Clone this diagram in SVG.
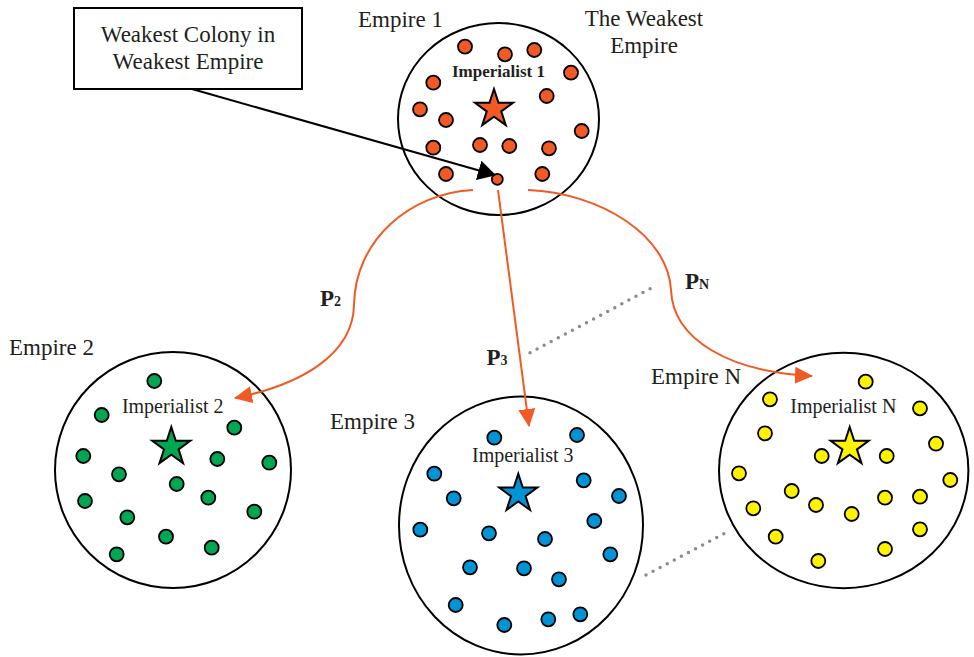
<svg xmlns="http://www.w3.org/2000/svg" width="974" height="657" viewBox="0 0 974 657">
<style>
  .lbl { font-family: "Liberation Serif", "Times New Roman", serif; font-size: 23px; fill: #231f20; }
  .imp { font-family: "Liberation Serif", "Times New Roman", serif; font-size: 20px; fill: #231f20; text-anchor: middle; }
  .impb { font-family: "Liberation Serif", "Times New Roman", serif; font-size: 17px; font-weight: bold; fill: #231f20; text-anchor: middle; }
  .pl { font-family: "Liberation Serif", "Times New Roman", serif; font-size: 23px; font-weight: bold; fill: #231f20; }
  .sub { font-size: 14px; }
  .emp { fill: #ffffff; stroke: #000000; stroke-width: 2; }
  .dot { stroke: #000000; stroke-width: 1.8; }
  .r { fill: #f15a24; }
  .g { fill: #00a651; }
  .b { fill: #0093d5; }
  .y { fill: #fff200; }
  .star { stroke: #000000; stroke-width: 2; stroke-linejoin: miter; }
  .oarrow { fill: none; stroke: #f15a24; stroke-width: 2; }
  .dotted { fill: none; stroke: #8c8c8c; stroke-width: 3.5; stroke-linecap: round; stroke-dasharray: 0 8; }
</style>
<defs>
  <polygon id="star" points="0,-20 4.49,-6.18 19.02,-6.18 7.27,2.36 11.76,16.18 0,7.64 -11.76,16.18 -7.27,2.36 -19.02,-6.18 -4.49,-6.18"/>
  <marker id="ah-o" markerUnits="userSpaceOnUse" markerWidth="18" markerHeight="18" viewBox="0 0 18 18" refX="17" refY="9" orient="auto">
    <path d="M0,0.5 L18,9 L0,17.5 Z" fill="#f15a24"/>
  </marker>
  <marker id="ah-k" markerUnits="userSpaceOnUse" markerWidth="18" markerHeight="20" viewBox="0 0 18 20" refX="17" refY="10" orient="auto">
    <path d="M0,0 L18,10 L0,20 Z" fill="#000000"/>
  </marker>
</defs>

<g id="note">
  <rect x="74" y="8" width="228" height="81" fill="#ffffff" stroke="#000000" stroke-width="2"/>
  <text class="lbl" x="188" y="42" text-anchor="middle">Weakest Colony in</text>
  <text class="lbl" x="188" y="69" text-anchor="middle">Weakest Empire</text>
</g>

<g id="empire1">
  <ellipse class="emp" cx="498.5" cy="119" rx="100.5" ry="96"/>
  <text class="lbl" x="358" y="27">Empire 1</text>
  <text class="lbl" x="644" y="26" text-anchor="middle">The Weakest</text>
  <text class="lbl" x="644" y="53" text-anchor="middle">Empire</text>
  <text class="impb" x="498.5" y="77">Imperialist 1</text>
  <use href="#star" class="star r" x="494" y="109"/>
  <g class="dot r">
    <circle cx="465" cy="46.7" r="7"/>
    <circle cx="505" cy="54.3" r="7"/>
    <circle cx="534.3" cy="50" r="7"/>
    <circle cx="571" cy="72.7" r="7"/>
    <circle cx="433.3" cy="82.7" r="7"/>
    <circle cx="546.7" cy="96" r="7"/>
    <circle cx="420" cy="109.3" r="7"/>
    <circle cx="446" cy="120" r="7"/>
    <circle cx="581.7" cy="131" r="7"/>
    <circle cx="433.3" cy="147.7" r="7"/>
    <circle cx="480" cy="145" r="7"/>
    <circle cx="509.3" cy="146" r="7"/>
    <circle cx="549" cy="148.3" r="7"/>
    <circle cx="446" cy="174" r="7"/>
    <circle cx="542.3" cy="174" r="7"/>
    <circle cx="497.3" cy="179.3" r="5.5"/>
  </g>
</g>

<g id="empire2">
  <circle class="emp" cx="173" cy="470" r="118"/>
  <text class="lbl" x="9" y="355">Empire 2</text>
  <text class="imp" x="172.7" y="413">Imperialist 2</text>
  <use href="#star" class="star g" x="171.3" y="447"/>
  <g class="dot g">
    <circle cx="154.3" cy="381" r="7"/>
    <circle cx="101.7" cy="415" r="7"/>
    <circle cx="234.3" cy="427.7" r="7"/>
    <circle cx="83.3" cy="456" r="7"/>
    <circle cx="217.3" cy="459" r="7"/>
    <circle cx="269.3" cy="462.7" r="7"/>
    <circle cx="119" cy="474.3" r="7"/>
    <circle cx="176.7" cy="484" r="7"/>
    <circle cx="85" cy="501" r="7"/>
    <circle cx="208.3" cy="497.7" r="7"/>
    <circle cx="254.3" cy="511.7" r="7"/>
    <circle cx="127.3" cy="517.3" r="7"/>
    <circle cx="166" cy="536.7" r="7"/>
    <circle cx="211.7" cy="547.7" r="7"/>
    <circle cx="116.7" cy="554.3" r="7"/>
  </g>
</g>

<g id="empire3">
  <ellipse class="emp" cx="521" cy="525.5" rx="122" ry="129"/>
  <text class="lbl" x="330" y="429">Empire 3</text>
  <text class="imp" x="522.8" y="461.7">Imperialist 3</text>
  <use href="#star" class="star b" x="518.3" y="493.8"/>
  <g class="dot b">
    <circle cx="494.3" cy="437.7" r="7"/>
    <circle cx="577" cy="435" r="7"/>
    <circle cx="434.3" cy="473.7" r="7"/>
    <circle cx="583.7" cy="480.3" r="7"/>
    <circle cx="453.7" cy="498.3" r="7"/>
    <circle cx="619" cy="496" r="7"/>
    <circle cx="594.3" cy="521" r="7"/>
    <circle cx="420.3" cy="529.7" r="7"/>
    <circle cx="489" cy="533.3" r="7"/>
    <circle cx="545" cy="539" r="7"/>
    <circle cx="610.3" cy="554.3" r="7"/>
    <circle cx="470" cy="567.3" r="7"/>
    <circle cx="524" cy="568.3" r="7"/>
    <circle cx="559" cy="579.3" r="7"/>
    <circle cx="455.7" cy="605" r="7"/>
    <circle cx="504.3" cy="625" r="7"/>
    <circle cx="548.3" cy="619.3" r="7"/>
    <circle cx="580.3" cy="614.3" r="7"/>
  </g>
</g>

<g id="empireN">
  <ellipse class="emp" cx="843.7" cy="470.5" rx="124.7" ry="117.7"/>
  <text class="lbl" x="651" y="384">Empire N</text>
  <text class="imp" x="843.3" y="413.3">Imperialist N</text>
  <use href="#star" class="star y" x="849.7" y="447"/>
  <g class="dot y">
    <circle cx="865.7" cy="381.7" r="7"/>
    <circle cx="770" cy="399.3" r="7"/>
    <circle cx="920" cy="408.3" r="7"/>
    <circle cx="765" cy="433.3" r="7"/>
    <circle cx="936" cy="443.7" r="7"/>
    <circle cx="821.7" cy="456" r="7"/>
    <circle cx="886.7" cy="456" r="7"/>
    <circle cx="739" cy="473.3" r="7"/>
    <circle cx="950.3" cy="480" r="7"/>
    <circle cx="791.7" cy="491" r="7"/>
    <circle cx="885" cy="497.7" r="7"/>
    <circle cx="920" cy="496.7" r="7"/>
    <circle cx="816" cy="505" r="7"/>
    <circle cx="753.3" cy="508.3" r="7"/>
    <circle cx="851.7" cy="514" r="7"/>
    <circle cx="920" cy="529.3" r="7"/>
    <circle cx="775.7" cy="536.7" r="7"/>
    <circle cx="885" cy="549" r="7"/>
    <circle cx="818.3" cy="561" r="7"/>
  </g>
</g>

<g id="connectors">
  <path d="M192,89 L495,175" fill="none" stroke="#000000" stroke-width="2" marker-end="url(#ah-k)"/>
  <path class="oarrow" d="M473,190 C410,193 355,240 354,305 C353,355 300,385 235,398" marker-end="url(#ah-o)"/>
  <path class="oarrow" d="M498,190 L529,426" marker-end="url(#ah-o)"/>
  <path class="oarrow" d="M528,190 C600,193 668,235 671,290 C673,340 730,372 812,376" marker-end="url(#ah-o)"/>
  <path class="dotted" d="M530,352.7 L656,285.7"/>
  <path class="dotted" d="M646,575 L726,532.7"/>
  <text class="pl" x="320" y="306">P<tspan class="sub">2</tspan></text>
  <text class="pl" x="486.5" y="365">P<tspan class="sub">3</tspan></text>
  <text class="pl" x="685" y="289">P<tspan class="sub">N</tspan></text>
</g>
</svg>
